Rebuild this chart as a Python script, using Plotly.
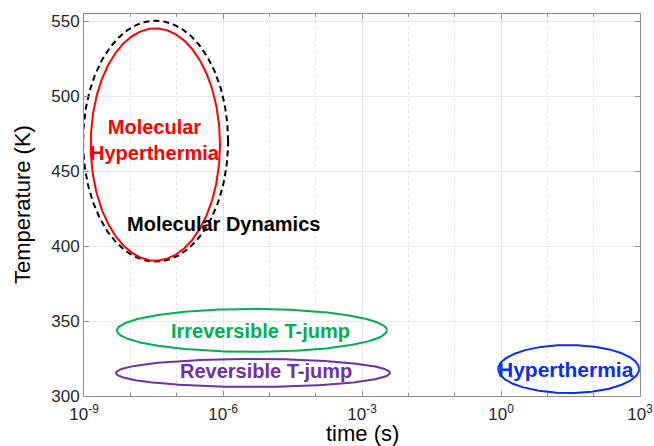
import numpy as np
import plotly.graph_objects as go

# ---- data ----
regions = ["Molecular Dynamics", "Molecular Hyperthermia", "Irreversible T-jump",
           "Reversible T-jump", "Hyperthermia"]
center_log_time = [-7.455, -7.46, -5.374, -5.352, 1.46]      # log10(time / s)
half_width_decades = [1.565, 1.395, 2.914, 2.957, 1.52]
center_temp = [470.1, 467.9, 343.8, 315.4, 318.0]            # K
half_height_temp = [80.4, 77.5, 14.35, 9.35, 16.0]
colors = ["#000000", "#ff0000", "#00b050", "#7030a0", "#0a2cf5"]
dashes = ["6px,4px", "solid", "solid", "solid", "solid"]

label_texts = ["Molecular Dynamics", "Molecular<br>Hyperthermia", "Irreversible T-jump",
               "Reversible T-jump", "Hyperthermia"]
label_log_time = [-5.98, -7.47, -5.19, -5.08, 1.40]
label_temp = [414.6, 471.0, 343.4, 317.0, 317.4]
label_size = [20, 20, 20, 20, 21]

x_tick_vals = [1e-9, 1e-6, 1e-3, 1e0, 1e3]
x_tick_text = ["10<sup>-9</sup>", "10<sup>-6</sup>", "10<sup>-3</sup>", "10<sup>0</sup>", "10<sup>3</sup>"]
x_range_log = [-9, 3]
y_range = [300, 555]
y_ticks = [300, 350, 400, 450, 500, 550]

FONT = "Liberation Sans, Arial, sans-serif"

fig = go.Figure()
t = np.linspace(0, 2 * np.pi, 361)
for name, cx, hw, cy, hh, col, dsh in zip(regions, center_log_time, half_width_decades,
                                          center_temp, half_height_temp, colors, dashes):
    fig.add_trace(go.Scatter(
        x=10 ** (cx + hw * np.cos(t)), y=cy + hh * np.sin(t),
        mode="lines", name=name, line=dict(color=col, width=2, dash=dsh),
        hoverinfo="skip", showlegend=False))

for txt, lx, ly, sz, col in zip(label_texts, label_log_time, label_temp, label_size, colors):
    fig.add_annotation(x=lx, y=ly, xref="x", yref="y", text=f"<b>{txt}</b>",
                       showarrow=False, font=dict(family=FONT, size=sz, color=col),
                       xanchor="center", yanchor="middle")

# axis titles placed as annotations in paper coordinates
fig.add_annotation(x=0.5, y=-0.097, xref="paper", yref="paper", text="time (s)",
                   showarrow=False, font=dict(family=FONT, size=22, color="#000000"),
                   xanchor="center", yanchor="middle")
fig.add_annotation(x=-0.1115, y=0.5, xref="paper", yref="paper", text="Temperature (K)",
                   textangle=-90, showarrow=False,
                   font=dict(family=FONT, size=22, color="#000000"),
                   xanchor="center", yanchor="middle")

fig.update_xaxes(
    type="log", range=x_range_log, tickvals=x_tick_vals, ticktext=x_tick_text,
    automargin=False, ticklabeloverflow="allow", ticklabelstandoff=3,
    showline=True, linecolor="#8f8f8f", linewidth=1, mirror="ticks",
    ticks="inside", ticklen=5, tickcolor="#8f8f8f",
    showgrid=True, gridcolor="#e8e8e8", gridwidth=1, zeroline=False,
    minor=dict(dtick=1, ticks="inside", ticklen=3, tickcolor="#8f8f8f",
               showgrid=True, gridcolor="#e4e4e4", griddash="dot", gridwidth=1),
    tickfont=dict(family=FONT, size=17, color="#262626"),
)
fig.update_yaxes(
    range=y_range, tickvals=y_ticks, automargin=False,
    showline=True, linecolor="#8f8f8f", linewidth=1, mirror="ticks",
    ticks="inside", ticklen=5, tickcolor="#8f8f8f",
    showgrid=True, gridcolor="#e8e8e8", gridwidth=1, zeroline=False,
    tickfont=dict(family=FONT, size=17, color="#262626"),
)
fig.update_layout(
    width=654, height=446, margin=dict(l=84, r=14, t=14, b=50),
    paper_bgcolor="white", plot_bgcolor="white", showlegend=False,
)
# remove the default page margin so the 654x446 figure fills the window exactly
fig.write_html("out.html", config={"displayModeBar": False},
               post_script="document.body.style.margin='0';document.body.style.overflow='hidden';")
